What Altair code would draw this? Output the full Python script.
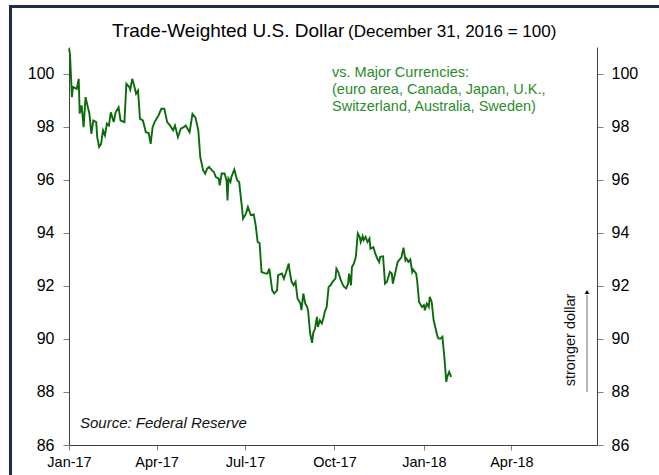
import altair as alt
import pandas as pd

# ---- data (day offset from 2017-01-01, index level) ----
days = [0, 1, 3, 4, 8, 10, 11, 13, 15, 17, 21, 23, 25, 28, 29, 31, 33, 35, 37, 39,
        41, 43, 46, 48, 51, 53, 57, 59, 62, 63, 65, 67, 69, 71, 73, 76, 79, 82, 84, 86,
        88, 92, 95, 98, 101, 104, 107, 109, 112, 115, 118, 120, 124, 127, 130, 133, 135, 138, 140, 142,
        144, 147, 149, 151, 154, 155, 157, 160, 162, 163, 164, 166, 167, 170, 173, 175, 178, 179, 182, 184,
        187, 190, 192, 194, 196, 198, 201, 204, 206, 209, 211, 214, 215, 219, 221, 223, 226, 227, 229, 231,
        233, 235, 238, 239, 241, 243, 245, 246, 248, 250, 251, 253, 255, 256, 258, 260, 262, 263, 265, 267,
        269, 271, 274, 275, 277, 279, 281, 283, 285, 287, 288, 290, 291, 293, 295, 297, 299, 300, 302, 303,
        305, 307, 309, 310, 313, 315, 317, 319, 320, 323, 325, 327, 330, 332, 333, 335, 338, 341, 342, 344,
        346, 347, 349, 351, 353, 354, 357, 358, 360, 363, 365, 366, 368, 370, 371, 373, 375, 377, 379, 380,
        382, 384, 386, 388, 389, 391, 393]
values = [100.94, 100.74, 99.11, 99.49, 99.42, 99.80, 98.49, 98.80, 97.98, 99.11, 98.48, 97.73, 98.23, 98.17, 97.60, 97.23, 97.35, 97.86, 97.67, 98.11,
          98.04, 98.54, 98.17, 98.54, 98.73, 98.23, 98.17, 99.61, 99.49, 99.39, 99.80, 99.55, 99.24, 99.36, 98.29, 98.23, 97.79, 97.76, 97.35, 97.98,
          98.17, 98.42, 98.67, 98.67, 98.17, 98.04, 97.86, 98.04, 97.60, 97.92, 97.98, 98.04, 97.79, 98.48, 98.35, 97.86, 96.85, 96.35, 96.23, 96.41,
          96.48, 96.35, 96.29, 96.10, 96.04, 95.79, 96.23, 96.23, 95.97, 95.22, 96.04, 95.91, 96.10, 96.38, 95.97, 95.91, 94.91, 94.53, 94.72, 94.97,
          94.66, 94.69, 94.28, 93.65, 93.61, 92.52, 92.48, 92.46, 92.65, 91.83, 91.71, 91.83, 92.40, 92.46, 92.27, 92.48, 92.84, 92.52, 92.15, 92.02,
          92.15, 91.52, 91.33, 91.08, 91.71, 91.33, 91.20, 91.02, 90.20, 89.85, 90.20, 90.39, 90.83, 90.45, 90.70, 90.58, 90.83, 91.02, 91.20, 91.96,
          92.02, 92.15, 92.27, 92.65, 92.52, 92.27, 92.08, 91.96, 91.90, 92.08, 92.46, 92.02, 92.71, 92.84, 93.09, 93.97, 93.84, 93.65, 93.87, 93.72,
          93.84, 93.65, 93.78, 93.40, 93.46, 93.21, 93.03, 92.90, 93.09, 93.11, 92.08, 92.15, 92.52, 92.46, 92.08, 92.40, 92.90, 93.03, 93.09, 93.44,
          92.96, 93.03, 92.90, 92.99, 92.52, 92.61, 92.46, 92.21, 91.39, 91.20, 91.27, 91.08, 91.33, 91.20, 91.58, 91.39, 90.70, 90.39, 90.08, 90.01,
          90.01, 90.08, 89.32, 88.38, 88.57, 88.76, 88.57]

y_ticks = [86, 88, 90, 92, 94, 96, 98, 100]
x_tick_months = [(2017, 1), (2017, 4), (2017, 7), (2017, 10), (2018, 1), (2018, 4)]

title_main = "Trade-Weighted U.S. Dollar"
title_sub = "(December 31, 2016 = 100)"
note_lines = ["vs. Major Currencies:", "(euro area, Canada, Japan, U.K.,", "Switzerland, Australia, Sweden)"]
source_text = "Source: Federal Reserve"
arrow_text = "stronger dollar"

df = pd.DataFrame({
    "date": pd.Timestamp("2017-01-01") + pd.to_timedelta(days, unit="D"),
    "value": values,
})

W, H = 528, 398
FONT = "Liberation Sans"
LINE_GREEN = "#0b6b0b"
TEXT_GREEN = "#2a8c2a"

x_enc = alt.X(
    "date:T",
    scale=alt.Scale(domain=[alt.DateTime(year=2017, month=1, date=1),
                            alt.DateTime(year=2018, month=6, date=28)]),
    axis=alt.Axis(
        values=[alt.DateTime(year=y, month=m, date=1) for y, m in x_tick_months],
        format="%b-%y", title=None, grid=False, labelFlush=False,
        labelFont=FONT, labelFontSize=14.5, labelColor="#000000",
        domainColor="#404040", tickColor="#808080", tickSize=5, labelPadding=5,
    ),
)

y_scale = alt.Scale(domain=[86, 101], nice=False, zero=False)


def y_axis(orient, pad):
    return alt.Axis(
        orient=orient, values=y_ticks, title=None, grid=False,
        labelFont=FONT, labelFontSize=16, labelColor="#000000",
        domainColor="#404040", tickColor="#808080", tickSize=6, labelPadding=pad,
    )


line = alt.Chart(df).mark_line(color=LINE_GREEN, strokeWidth=1.9).encode(
    x=x_enc, y=alt.Y("value:Q", scale=y_scale, axis=y_axis("left", 9))
)
right = alt.Chart(df).mark_line(strokeOpacity=0).encode(
    x=x_enc, y=alt.Y("value:Q", scale=y_scale, axis=y_axis("right", 8))
)

one = pd.DataFrame({"k": [0]})

t_main = alt.Chart(one).mark_text(align="left", baseline="alphabetic", font=FONT,
                                  fontSize=19, color="#000000", text=title_main).encode(
    x=alt.value(43), y=alt.value(-10))
t_sub = alt.Chart(one).mark_text(align="left", baseline="alphabetic", font=FONT,
                                 fontSize=17, color="#000000", text=title_sub).encode(
    x=alt.value(279), y=alt.value(-10))
note = alt.Chart(one).mark_text(align="left", baseline="alphabetic", font=FONT,
                                fontSize=14.5, color=TEXT_GREEN, lineBreak="\n",
                                lineHeight=17, text="\n".join(note_lines)).encode(
    x=alt.value(263), y=alt.value(30))
src = alt.Chart(one).mark_text(align="left", baseline="alphabetic", font=FONT,
                               fontSize=15, fontStyle="italic", color="#111111",
                               text=source_text).encode(
    x=alt.value(11), y=alt.value(381))
arr_txt = alt.Chart(one).mark_text(align="center", baseline="middle", font=FONT,
                                   fontSize=14.5, angle=270, color="#111111",
                                   text=arrow_text).encode(
    x=alt.value(502), y=alt.value(293))
arr_line = alt.Chart(one).mark_rule(color="#707070", strokeWidth=1).encode(
    x=alt.value(518), y=alt.value(248), y2=alt.value(345))
arr_head = alt.Chart(one).mark_point(shape="triangle-up", filled=True, size=22,
                                     color="#000000", opacity=1).encode(
    x=alt.value(518), y=alt.value(245))
frame_top = alt.Chart(one).mark_rule(color="#1c2b4a", strokeWidth=3).encode(
    x=alt.value(-60), x2=alt.value(600), y=alt.value(-40.5))
frame_left = alt.Chart(one).mark_rule(color="#1c2b4a", strokeWidth=3).encode(
    x=alt.value(-58.5), y=alt.value(-42), y2=alt.value(440))

chart = alt.layer(
    line, right, t_main, t_sub, note, src, arr_txt, arr_line, arr_head, frame_top, frame_left
).resolve_scale(y="independent").properties(
    width=W, height=H,
    padding={"left": 69, "top": 47, "right": 62, "bottom": 30},
    autosize=alt.AutoSizeParams(type="none"),
    background="white",
).configure_view(stroke=None)

chart.save("out.html", embed_options={"renderer": "svg", "actions": False})
